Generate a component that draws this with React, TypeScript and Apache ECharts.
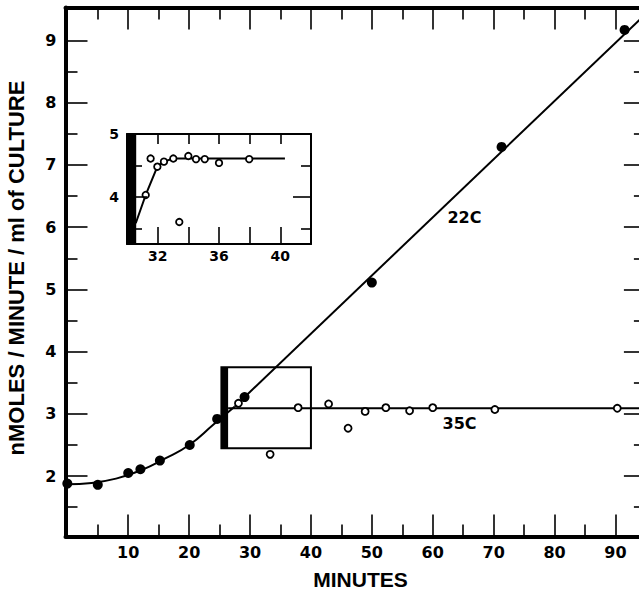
import React, { useEffect, useRef } from 'react';
import * as echarts from 'echarts';

// ---- main panel data ----
const xMajorTicks = [10, 20, 30, 40, 50, 60, 70, 80, 90];
const xMinorTicks = [5, 15, 25, 35, 45, 55, 65, 75, 85];
const yMajorTicks = [2, 3, 4, 5, 6, 7, 8, 9];
const yMinorTicks = [1.5, 2.5, 3.5, 4.5, 5.5, 6.5, 7.5, 8.5];

const points22C = [
  [0, 1.88], [5, 1.86], [10, 2.05], [12, 2.11], [15.2, 2.25], [20.1, 2.5],
  [24.6, 2.92], [29.1, 3.27], [50, 5.11], [71.3, 7.29], [91.5, 9.17],
];
const curve22C = [
  [0, 1.87], [4, 1.89], [8, 1.96], [12, 2.09], [16, 2.28], [20, 2.5], [24, 2.83], [27.5, 3.12],
];
const line22C = [[27.5, 3.12], [95, 9.43]];
const points35C = [
  [28.1, 3.17], [33.3, 2.35], [37.9, 3.1], [42.9, 3.16], [46.1, 2.77], [48.9, 3.04],
  [52.3, 3.1], [56.2, 3.05], [60, 3.1], [70.2, 3.07], [90.3, 3.09],
];
const line35C = [[26.4, 3.09], [95, 3.09]];
const seriesLabels = [
  { name: '22C', x: 65.2, y: 6.16 },
  { name: '35C', x: 64.4, y: 2.85 },
];
const shiftBox = { x0: 25.3, x1: 40, y0: 2.45, y1: 3.75, barX1: 26.4 };

// ---- inset data ----
const insetXTicks = [32, 34, 36, 38, 40];
const insetXLabels = [32, 36, 40];
const insetYMajor = [4];
const insetYMinor = [3.5, 4.5];
const insetYLabels = [4, 5];
const insetPoints = [
  [31.22, 4.03], [31.54, 4.61], [31.98, 4.48], [32.41, 4.56], [33.02, 4.61], [33.41, 3.6],
  [34, 4.65], [34.5, 4.6], [35.07, 4.6], [36, 4.54], [37.97, 4.6],
];
const insetLine = [[30.57, 3.58], [31.22, 4.03], [31.98, 4.48], [32.41, 4.56], [33.02, 4.61], [40.3, 4.61]];
const insetBar = { x0: 30, x1: 30.6, y0: 3.25, y1: 5 };

const NUM_FONT = 'DejaVu Sans';
const TITLE_FONT = 'Liberation Sans';
const CHART_W = 660;

function mkAxis(o: any) {
  return {
    type: 'value',
    gridIndex: o.grid,
    min: o.min,
    max: o.max,
    position: o.position,
    axisLine: { show: !!o.line, onZero: false, lineStyle: { color: '#000', width: o.line || 1 } },
    axisTick: {
      show: true, inside: true, length: o.len, customValues: o.ticks,
      lineStyle: { color: '#000', width: 1.6 },
    },
    axisLabel: o.labels
      ? {
          show: true, customValues: o.labels, color: '#000', fontFamily: NUM_FONT,
          fontWeight: 'bold', fontSize: o.fontSize || 16, margin: o.margin || 8,
        }
      : { show: false },
    splitLine: { show: false },
    minorTick: { show: false },
    z: 5,
  };
}

export default function App() {
  const ref = useRef<HTMLDivElement>(null);
  useEffect(() => {
    if (!ref.current) return;
    const chart = echarts.init(ref.current, undefined, { renderer: 'svg' });
    const xMin = -0.3, xMax = 95, yMin = 1.03, yMax = 9.53;
    const option: any = {
      animation: false,
      backgroundColor: '#fff',
      grid: [
        { left: 65.5, top: 7.5, width: 580.4, bottom: 54.5 },
        { left: 127, top: 134, width: 184, height: 110 },
      ],
      xAxis: [
        mkAxis({ grid: 0, min: xMin, max: xMax, position: 'bottom', line: 4, ticks: xMajorTicks, len: 22, labels: xMajorTicks, margin: 8 }),
        mkAxis({ grid: 0, min: xMin, max: xMax, position: 'bottom', ticks: xMinorTicks, len: 12 }),
        mkAxis({ grid: 0, min: xMin, max: xMax, position: 'top', line: 4, ticks: xMajorTicks, len: 22 }),
        mkAxis({ grid: 0, min: xMin, max: xMax, position: 'top', ticks: xMinorTicks, len: 12 }),
        mkAxis({ grid: 1, min: 30, max: 42, position: 'bottom', line: 2, ticks: insetXTicks, len: 17, labels: insetXLabels, fontSize: 14, margin: 5 }),
        mkAxis({ grid: 1, min: 30, max: 42, position: 'top', line: 2, ticks: insetXTicks, len: 10 }),
      ],
      yAxis: [
        mkAxis({ grid: 0, min: yMin, max: yMax, position: 'left', line: 4, ticks: yMajorTicks, len: 22, labels: yMajorTicks, margin: 9 }),
        mkAxis({ grid: 0, min: yMin, max: yMax, position: 'left', ticks: yMinorTicks, len: 12 }),
        mkAxis({ grid: 0, min: yMin, max: yMax, position: 'right', line: 4, ticks: yMajorTicks, len: 22 }),
        mkAxis({ grid: 0, min: yMin, max: yMax, position: 'right', ticks: yMinorTicks, len: 12 }),
        mkAxis({ grid: 1, min: 3.25, max: 5, position: 'left', line: 2, ticks: insetYMajor, len: 20, labels: insetYLabels, fontSize: 14, margin: 8 }),
        mkAxis({ grid: 1, min: 3.25, max: 5, position: 'left', ticks: insetYMinor, len: 15 }),
        mkAxis({ grid: 1, min: 3.25, max: 5, position: 'right', line: 2, ticks: insetYMajor, len: 18 }),
        mkAxis({ grid: 1, min: 3.25, max: 5, position: 'right', ticks: insetYMinor, len: 10 }),
      ],
      series: [
        {
          type: 'line', xAxisIndex: 0, yAxisIndex: 0, data: [], silent: true,
          markArea: {
            silent: true,
            data: [
              [
                { xAxis: shiftBox.x0, yAxis: shiftBox.y0, itemStyle: { color: 'rgba(0,0,0,0)', borderColor: '#000', borderWidth: 2, opacity: 1 } },
                { xAxis: shiftBox.x1, yAxis: shiftBox.y1 },
              ],
              [
                { xAxis: shiftBox.x0, yAxis: shiftBox.y0, itemStyle: { color: '#000', borderWidth: 0, opacity: 1 } },
                { xAxis: shiftBox.barX1, yAxis: shiftBox.y1 },
              ],
            ],
          },
        },
        {
          name: '22C curve', type: 'line', xAxisIndex: 0, yAxisIndex: 0, data: curve22C,
          smooth: 0.5, symbol: 'none', lineStyle: { color: '#000', width: 2 }, z: 3,
        },
        {
          name: '22C line', type: 'line', xAxisIndex: 0, yAxisIndex: 0, data: line22C,
          symbol: 'none', lineStyle: { color: '#000', width: 2 }, z: 3,
        },
        {
          name: '35C line', type: 'line', xAxisIndex: 0, yAxisIndex: 0, data: line35C,
          symbol: 'none', lineStyle: { color: '#000', width: 2 }, z: 3,
        },
        {
          name: '22C', type: 'scatter', xAxisIndex: 0, yAxisIndex: 0, data: points22C,
          symbol: 'circle', symbolSize: 10, itemStyle: { color: '#000', opacity: 1 }, z: 4,
        },
        {
          name: '35C', type: 'scatter', xAxisIndex: 0, yAxisIndex: 0, data: points35C,
          symbol: 'circle', symbolSize: 7, itemStyle: { color: '#fff', borderColor: '#000', borderWidth: 1.8, opacity: 1 }, z: 4,
        },
        {
          type: 'scatter', xAxisIndex: 0, yAxisIndex: 0, symbolSize: 0.1, silent: true,
          itemStyle: { color: '#000', opacity: 1 },
          data: seriesLabels.map((l) => ({ name: l.name, value: [l.x, l.y] })),
          label: {
            show: true, position: 'inside', formatter: '{b}', color: '#000', opacity: 1,
            textBorderWidth: 0, fontFamily: NUM_FONT, fontWeight: 'bold', fontSize: 16,
          },
        },
        {
          type: 'line', xAxisIndex: 4, yAxisIndex: 4, data: insetLine, symbol: 'none',
          lineStyle: { color: '#000', width: 2 }, z: 3,
          markArea: {
            silent: true,
            data: [[
              { xAxis: insetBar.x0, yAxis: insetBar.y0, itemStyle: { color: '#000', opacity: 1 } },
              { xAxis: insetBar.x1, yAxis: insetBar.y1 },
            ]],
          },
        },
        {
          type: 'scatter', xAxisIndex: 4, yAxisIndex: 4, data: insetPoints,
          symbol: 'circle', symbolSize: 6.5, itemStyle: { color: '#fff', borderColor: '#000', borderWidth: 1.8, opacity: 1 }, z: 4,
        },
      ],
      graphic: [
        {
          type: 'text', x: 16, y: 268, rotation: Math.PI / 2,
          style: {
            text: 'nMOLES / MINUTE / ml of CULTURE', fill: '#000', fontFamily: TITLE_FONT,
            fontWeight: 'bold', fontSize: 22, align: 'center', verticalAlign: 'middle',
          },
        },
        {
          type: 'text', x: 360.5, y: 579.5,
          style: {
            text: 'MINUTES', fill: '#000', fontFamily: TITLE_FONT,
            fontWeight: 'bold', fontSize: 21, align: 'center', verticalAlign: 'middle',
          },
        },
      ],
    };
    chart.setOption(option);
    return () => chart.dispose();
  }, []);
  return (
    <div style={{ position: 'absolute', left: 0, top: 0, width: 639, height: 591, overflow: 'hidden', background: '#fff' }}>
      <div ref={ref} style={{ position: 'absolute', left: 0, top: 0, width: CHART_W, height: 591 }} />
    </div>
  );
}
